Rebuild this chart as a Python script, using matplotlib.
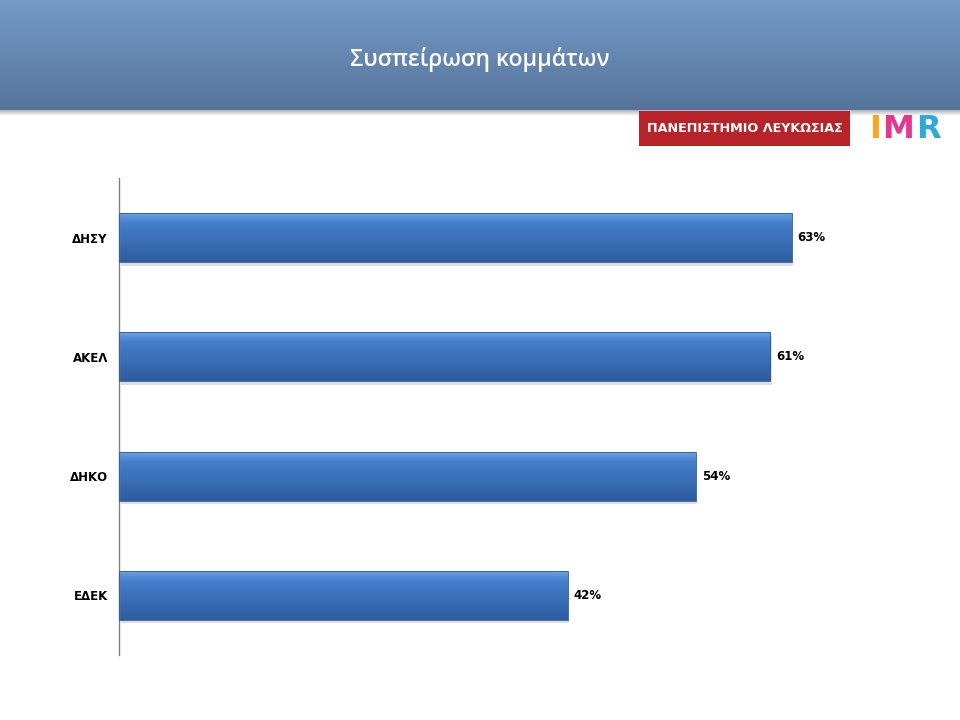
import numpy as np
import matplotlib
matplotlib.use("Agg")
import matplotlib.pyplot as plt
from matplotlib.patches import Rectangle

parties = ["ΔΗΣΥ", "ΑΚΕΛ", "ΔΗΚΟ", "ΕΔΕΚ"]
values = [63, 61, 54, 42]
title = "Συσπείρωση κομμάτων"
uni_label = "ΠΑΝΕΠΙΣΤΗΜΙΟ ΛΕΥΚΩΣΙΑΣ"

plt.rcParams["font.family"] = ["Open Sans", "DejaVu Sans"]

fig = plt.figure(figsize=(9.6, 7.2), dpi=100)

# header band with vertical gradient
hdr = fig.add_axes([0, 1 - 110 / 720, 1, 110 / 720])
grad = np.linspace(0, 1, 256).reshape(-1, 1)
top = np.array([0x74, 0x9a, 0xc8]) / 255
bot = np.array([0x56, 0x74, 0x9b]) / 255
img = top[None, None, :] * (1 - grad[:, :, None]) + bot[None, None, :] * grad[:, :, None]
hdr.imshow(img, aspect="auto", extent=[0, 1, 0, 1])
hdr.set_xlim(0, 1)
hdr.set_ylim(0, 1)
hdr.axis("off")
hdr.text(0.5, 0.46, title, color="white", fontsize=16.5, fontweight="semibold",
         ha="center", va="center")

# header shadow
sh = fig.add_axes([0, 1 - 116 / 720, 1, 6 / 720])
sgrad = np.linspace(0.7, 1, 64).reshape(-1, 1)
sh.imshow(np.repeat(sgrad, 2, axis=1), cmap="gray", vmin=0, vmax=1, aspect="auto",
          extent=[0, 1, 0, 1])
sh.axis("off")
sh.set_zorder(-1)

# logos
fig.patches.append(Rectangle((639 / 960, 1 - 146 / 720), 211 / 960, 35 / 720,
                             transform=fig.transFigure, facecolor="#b8232a",
                             edgecolor="none"))
fig.text(745 / 960, 1 - 129 / 720, uni_label, color="white", fontsize=9.2,
         fontweight="bold", ha="center", va="center", family=["DejaVu Sans"])
for ch, col, x in [("I", "#f7a823", 869), ("M", "#e2388f", 882), ("R", "#2fa8dc", 916)]:
    fig.text(x / 960, 1 - 129 / 720, ch, color=col, fontsize=23, fontweight="bold",
             ha="left", va="center", family=["DejaVu Sans"])

# main chart
ax = fig.add_axes([119 / 960, 1 - 655 / 720, 801 / 960, 477 / 720])
ypos = np.arange(len(parties))
h = 0.41

btop = np.array([0x6a, 0xa2, 0xe2]) / 255
bmid = np.array([0x44, 0x7e, 0xcc]) / 255
bbot = np.array([0x2f, 0x5c, 0x9e]) / 255
t = np.linspace(0, 1, 100)
col = np.where(t[:, None] < 0.2,
               btop * (1 - t[:, None] / 0.2) + bmid * (t[:, None] / 0.2),
               bmid * (1 - (t[:, None] - 0.2) / 0.8) + bbot * ((t[:, None] - 0.2) / 0.8))
bar_img = col[:, None, :]

for y, v in zip(ypos, values):
    # shadow
    ax.add_patch(Rectangle((0.15, y - h / 2 + 0.03), v, h, facecolor="#c8c8c8",
                           edgecolor="none", alpha=0.6, zorder=1))
    ax.imshow(bar_img, aspect="auto", extent=[0, v, y + h / 2, y - h / 2], zorder=2)
    ax.add_patch(Rectangle((0, y - h / 2), v, h, facecolor="none",
                           edgecolor="#2d5a96", linewidth=0.6, zorder=3))
    ax.text(v + 0.55, y, f"{v}%", fontsize=8.5, fontweight="bold", va="center",
            ha="left", family=["DejaVu Sans"])

ax.set_xlim(0, 75)
ax.set_ylim(len(parties) - 0.5, -0.5)
ax.set_yticks(ypos)
ax.set_yticklabels(parties, fontsize=8.5, fontweight="bold", family=["DejaVu Sans"])
ax.tick_params(axis="y", length=0, pad=8)
ax.set_xticks([])
for s in ["top", "right", "bottom"]:
    ax.spines[s].set_visible(False)
ax.spines["left"].set_color("#808080")
ax.spines["left"].set_linewidth(1)

fig.savefig("out.png", dpi=100)
